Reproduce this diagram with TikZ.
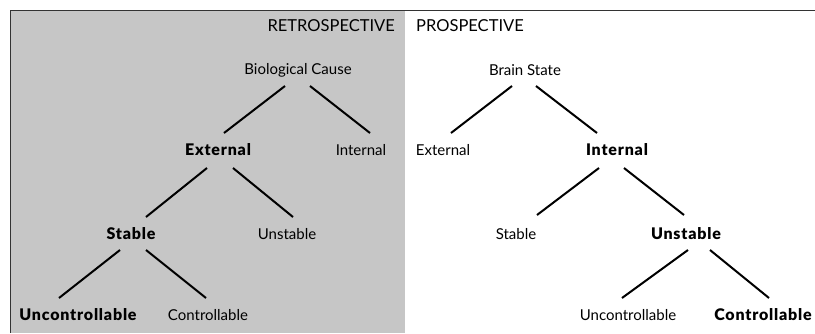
\documentclass[tikz,border=0pt]{standalone}
\usepackage{fontspec}
\setmainfont{Lato}[BoldFont={Lato Black},BoldFeatures={LetterSpace=5}]
\begin{document}
\begin{tikzpicture}[x=1pt,y=-1pt,
  lbl/.style={inner sep=0pt,font=\fontsize{15}{17}\selectfont},
  blbl/.style={inner sep=0pt,font=\fontsize{16}{18}\selectfont\bfseries},
  ttl/.style={inner sep=0pt,font=\fontsize{16.5}{18}\selectfont},
  edge/.style={line width=2pt,black},
  frameline/.style={line width=1pt,black!80}]
\useasboundingbox (0,0) rectangle (815,333);
\fill[gray!45] (10,10) rectangle (405,333);
\draw[frameline] (10,333) -- (10,10) -- (815,10);
% titles
\node[ttl,anchor=east] (retro) at (395,26) {RETROSPECTIVE};
\node[ttl,anchor=west] (prosp) at (416,26) {PROSPECTIVE};
% left tree
\node[lbl] (bc) at (298,70) {Biological Cause};
\node[blbl] (ext) at (218,150) {External};
\node[lbl] (int) at (361,150) {Internal};
\node[blbl] (stab) at (131,234) {Stable};
\node[lbl] (unst) at (287,234) {Unstable};
\node[blbl] (unc) at (78,315) {Uncontrollable};
\node[lbl] (con) at (208,315) {Controllable};
\draw[edge] ([shift={(-13,16)}]bc.center) -- ([shift={(6,-17)}]ext.center);
\draw[edge] ([shift={(12,16)}]bc.center) -- ([shift={(9,-17)}]int.center);
\draw[edge] ([shift={(-11,18)}]ext.center) -- ([shift={(15,-17)}]stab.center);
\draw[edge] ([shift={(15,18)}]ext.center) -- ([shift={(6,-17)}]unst.center);
\draw[edge] ([shift={(-11,16)}]stab.center) -- ([shift={(-19,-17)}]unc.center);
\draw[edge] ([shift={(15,16)}]stab.center) -- ([shift={(-2,-17)}]con.center);
% right tree
\node[lbl] (bs) at (525,70) {Brain State};
\node[lbl] (ext2) at (443,150) {External};
\node[blbl] (int2) at (617,150) {Internal};
\node[lbl] (stab2) at (516,234) {Stable};
\node[blbl] (unst2) at (686,234) {Unstable};
\node[lbl] (unc2) at (628,315) {Uncontrollable};
\node[blbl] (con2) at (763,315) {Controllable};
\draw[edge] ([shift={(-13,16)}]bs.center) -- ([shift={(8,-17)}]ext2.center);
\draw[edge] ([shift={(11,16)}]bs.center) -- ([shift={(-20,-17)}]int2.center);
\draw[edge] ([shift={(-18,18)}]int2.center) -- ([shift={(21,-19)}]stab2.center);
\draw[edge] ([shift={(7,18)}]int2.center) -- ([shift={(-2,-19)}]unst2.center);
\draw[edge] ([shift={(2,16)}]unst2.center) -- ([shift={(-6,-17)}]unc2.center);
\draw[edge] ([shift={(24,16)}]unst2.center) -- ([shift={(6,-17)}]con2.center);
\end{tikzpicture}
\end{document}
